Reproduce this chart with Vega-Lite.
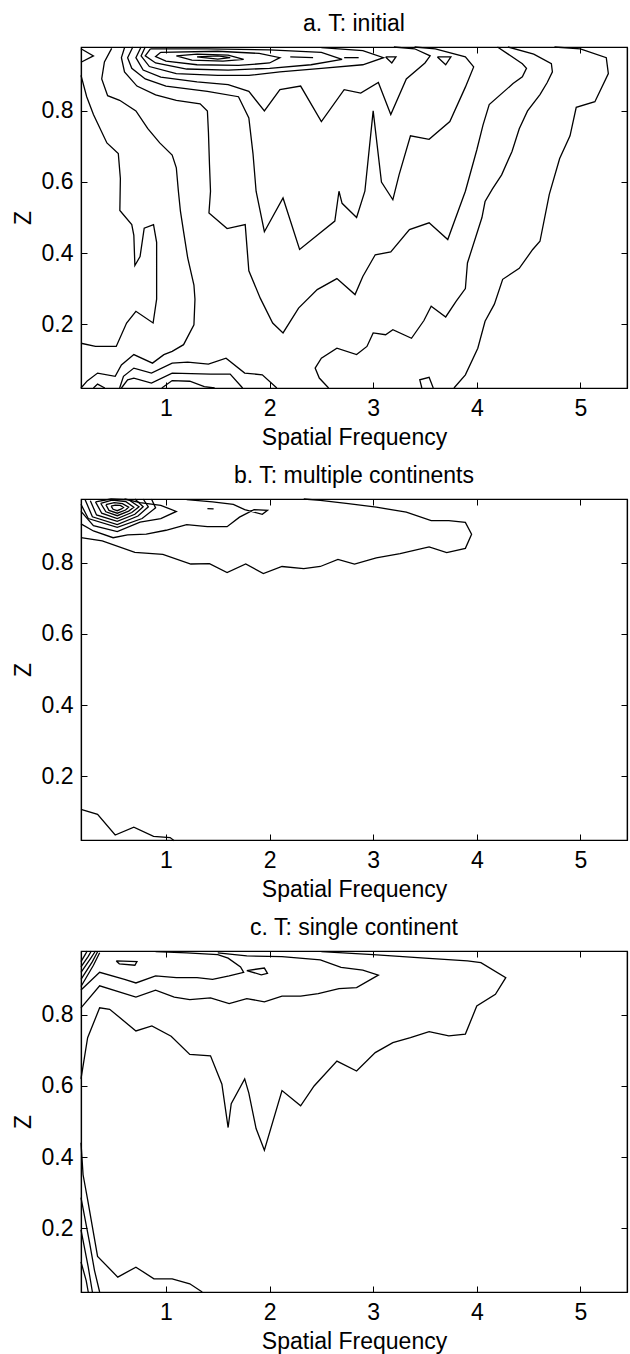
{
"$schema": "https://vega.github.io/schema/vega-lite/v6.json",
"padding": {"left": 11, "top": 12, "right": 2, "bottom": 2},
"spacing": 14,
"config": {
  "font": "Liberation Sans",
  "view": {"stroke": "black", "strokeWidth": 1.2},
  "axis": {"labelFontSize": 23, "titleFontSize": 23, "labelColor": "black", "titleColor": "black", "titleFontWeight": "normal", "domainColor": "black", "tickColor": "black", "grid": false, "tickSize": -6, "domainWidth": 1.2, "titlePadding": 6},
  "axisBottom": {"labelPadding": 15},
  "axisLeft": {"labelPadding": 14},
  "title": {"fontSize": 23, "fontWeight": "normal", "color": "black", "offset": 8},
  "line": {"color": "black", "strokeWidth": 1.3, "clip": true}
},
"vconcat": [
{
  "width": 546, "height": 341,
  "title": "a. T: initial",
  "data": {"values": [
    {"c":"a1","x":0.18,"z":0.975},{"c":"a1","x":0.30,"z":0.955},{"c":"a1","x":0.18,"z":0.937},
    {"c":"a2","x":0.18,"z":0.90},{"c":"a2","x":0.235,"z":0.84},{"c":"a2","x":0.30,"z":0.79},{"c":"a2","x":0.43,"z":0.71},{"c":"a2","x":0.54,"z":0.68},{"c":"a2","x":0.56,"z":0.61},{"c":"a2","x":0.555,"z":0.52},{"c":"a2","x":0.67,"z":0.48},{"c":"a2","x":0.69,"z":0.45},{"c":"a2","x":0.70,"z":0.365},{"c":"a2","x":0.75,"z":0.39},{"c":"a2","x":0.79,"z":0.47},{"c":"a2","x":0.88,"z":0.48},{"c":"a2","x":0.91,"z":0.43},{"c":"a2","x":0.91,"z":0.27},{"c":"a2","x":0.876,"z":0.203},{"c":"a2","x":0.71,"z":0.236},{"c":"a2","x":0.62,"z":0.203},{"c":"a2","x":0.52,"z":0.137},{"c":"a2","x":0.32,"z":0.137},{"c":"a2","x":0.18,"z":0.146},
    {"c":"a3","x":0.476,"z":0.976},{"c":"a3","x":0.406,"z":0.938},{"c":"a3","x":0.38,"z":0.89},{"c":"a3","x":0.437,"z":0.843},{"c":"a3","x":0.553,"z":0.83},{"c":"a3","x":0.71,"z":0.80},{"c":"a3","x":0.825,"z":0.75},{"c":"a3","x":0.94,"z":0.71},{"c":"a3","x":1.06,"z":0.676},{"c":"a3","x":1.10,"z":0.64},{"c":"a3","x":1.12,"z":0.574},{"c":"a3","x":1.14,"z":0.517},{"c":"a3","x":1.17,"z":0.46},{"c":"a3","x":1.21,"z":0.386},{"c":"a3","x":1.27,"z":0.31},{"c":"a3","x":1.28,"z":0.27},{"c":"a3","x":1.27,"z":0.198},{"c":"a3","x":1.17,"z":0.142},{"c":"a3","x":1.06,"z":0.123},{"c":"a3","x":0.98,"z":0.114},{"c":"a3","x":0.87,"z":0.09},{"c":"a3","x":0.69,"z":0.114},{"c":"a3","x":0.57,"z":0.085},{"c":"a3","x":0.51,"z":0.053},{"c":"a3","x":0.34,"z":0.062},{"c":"a3","x":0.24,"z":0.04},{"c":"a3","x":0.18,"z":0.02},
    {"c":"a4","x":4.2,"z":0.98},{"c":"a4","x":4.44,"z":0.933},{"c":"a4","x":4.48,"z":0.92},{"c":"a4","x":4.44,"z":0.896},{"c":"a4","x":4.35,"z":0.877},{"c":"a4","x":4.12,"z":0.818},{"c":"a4","x":4.06,"z":0.76},{"c":"a4","x":4.0,"z":0.69},{"c":"a4","x":3.89,"z":0.574},{"c":"a4","x":3.72,"z":0.438},{"c":"a4","x":3.54,"z":0.485},{"c":"a4","x":3.35,"z":0.466},{"c":"a4","x":3.17,"z":0.403},{"c":"a4","x":3.02,"z":0.395},{"c":"a4","x":2.90,"z":0.334},{"c":"a4","x":2.825,"z":0.283},{"c":"a4","x":2.65,"z":0.328},{"c":"a4","x":2.46,"z":0.297},{"c":"a4","x":2.28,"z":0.245},{"c":"a4","x":2.13,"z":0.175},{"c":"a4","x":2.03,"z":0.203},{"c":"a4","x":1.91,"z":0.273},{"c":"a4","x":1.80,"z":0.35},{"c":"a4","x":1.765,"z":0.48},{"c":"a4","x":1.59,"z":0.469},{"c":"a4","x":1.415,"z":0.513},{"c":"a4","x":1.43,"z":0.574},{"c":"a4","x":1.42,"z":0.65},{"c":"a4","x":1.41,"z":0.74},{"c":"a4","x":1.40,"z":0.80},{"c":"a4","x":1.33,"z":0.82},{"c":"a4","x":1.1,"z":0.83},{"c":"a4","x":0.9,"z":0.845},{"c":"a4","x":0.72,"z":0.87},{"c":"a4","x":0.60,"z":0.91},{"c":"a4","x":0.57,"z":0.95},{"c":"a4","x":0.60,"z":0.978},
    {"c":"a5","x":0.68,"z":0.98},{"c":"a5","x":0.63,"z":0.95},{"c":"a5","x":0.67,"z":0.92},{"c":"a5","x":0.80,"z":0.89},{"c":"a5","x":1.0,"z":0.87},{"c":"a5","x":1.4,"z":0.855},{"c":"a5","x":1.7,"z":0.84},{"c":"a5","x":1.80,"z":0.78},{"c":"a5","x":1.84,"z":0.68},{"c":"a5","x":1.87,"z":0.574},{"c":"a5","x":1.95,"z":0.46},{"c":"a5","x":2.13,"z":0.555},{"c":"a5","x":2.29,"z":0.41},{"c":"a5","x":2.46,"z":0.45},{"c":"a5","x":2.63,"z":0.49},{"c":"a5","x":2.67,"z":0.574},{"c":"a5","x":2.70,"z":0.54},{"c":"a5","x":2.84,"z":0.50},{"c":"a5","x":2.92,"z":0.574},{"c":"a5","x":3.0,"z":0.80},{"c":"a5","x":3.08,"z":0.60},{"c":"a5","x":3.19,"z":0.55},{"c":"a5","x":3.25,"z":0.62},{"c":"a5","x":3.36,"z":0.73},{"c":"a5","x":3.54,"z":0.72},{"c":"a5","x":3.74,"z":0.77},{"c":"a5","x":3.89,"z":0.867},{"c":"a5","x":3.97,"z":0.924},{"c":"a5","x":3.89,"z":0.952},{"c":"a5","x":3.6,"z":0.975},{"c":"a5","x":3.4,"z":0.98},
    {"c":"a6","x":0.76,"z":0.98},{"c":"a6","x":0.71,"z":0.95},{"c":"a6","x":0.78,"z":0.915},{"c":"a6","x":0.95,"z":0.895},{"c":"a6","x":1.3,"z":0.882},{"c":"a6","x":1.6,"z":0.874},{"c":"a6","x":1.8,"z":0.855},{"c":"a6","x":1.95,"z":0.80},{"c":"a6","x":2.1,"z":0.86},{"c":"a6","x":2.3,"z":0.87},{"c":"a6","x":2.5,"z":0.77},{"c":"a6","x":2.72,"z":0.86},{"c":"a6","x":2.88,"z":0.85},{"c":"a6","x":3.05,"z":0.88},{"c":"a6","x":3.17,"z":0.79},{"c":"a6","x":3.32,"z":0.89},{"c":"a6","x":3.5,"z":0.935},{"c":"a6","x":3.55,"z":0.955},{"c":"a6","x":3.4,"z":0.975},{"c":"a6","x":3.2,"z":0.98},
    {"c":"a7","x":0.80,"z":0.98},{"c":"a7","x":0.76,"z":0.955},{"c":"a7","x":0.84,"z":0.925},{"c":"a7","x":1.1,"z":0.905},{"c":"a7","x":1.5,"z":0.90},{"c":"a7","x":1.8,"z":0.90},{"c":"a7","x":2.1,"z":0.91},{"c":"a7","x":2.5,"z":0.92},{"c":"a7","x":2.9,"z":0.93},{"c":"a7","x":3.1,"z":0.95},{"c":"a7","x":2.9,"z":0.97},{"c":"a7","x":2.5,"z":0.978},
    {"c":"a8","x":0.85,"z":0.975},{"c":"a8","x":0.80,"z":0.955},{"c":"a8","x":0.9,"z":0.935},{"c":"a8","x":1.2,"z":0.918},{"c":"a8","x":1.6,"z":0.915},{"c":"a8","x":2.0,"z":0.92},{"c":"a8","x":2.4,"z":0.93},{"c":"a8","x":2.7,"z":0.945},{"c":"a8","x":2.5,"z":0.965},{"c":"a8","x":2.0,"z":0.972},{"c":"a8","x":1.4,"z":0.975},{"c":"a8","x":0.85,"z":0.975},
    {"c":"a9","x":0.95,"z":0.965},{"c":"a9","x":0.90,"z":0.953},{"c":"a9","x":1.0,"z":0.94},{"c":"a9","x":1.3,"z":0.93},{"c":"a9","x":1.7,"z":0.928},{"c":"a9","x":2.0,"z":0.935},{"c":"a9","x":2.1,"z":0.95},{"c":"a9","x":1.9,"z":0.962},{"c":"a9","x":1.5,"z":0.968},{"c":"a9","x":0.95,"z":0.965},
    {"c":"a10","x":1.1,"z":0.955},{"c":"a10","x":1.25,"z":0.943},{"c":"a10","x":1.55,"z":0.94},{"c":"a10","x":1.75,"z":0.945},{"c":"a10","x":1.6,"z":0.957},{"c":"a10","x":1.3,"z":0.96},{"c":"a10","x":1.1,"z":0.955},
    {"c":"a11","x":1.3,"z":0.952},{"c":"a11","x":1.5,"z":0.946},{"c":"a11","x":1.62,"z":0.95},{"c":"a11","x":1.5,"z":0.955},{"c":"a11","x":1.3,"z":0.952},
    {"c":"a12","x":3.12,"z":0.952},{"c":"a12","x":3.22,"z":0.952},{"c":"a12","x":3.18,"z":0.935},{"c":"a12","x":3.12,"z":0.952},
    {"c":"a13","x":3.62,"z":0.952},{"c":"a13","x":3.75,"z":0.952},{"c":"a13","x":3.70,"z":0.93},{"c":"a13","x":3.62,"z":0.952},
    {"c":"a14","x":2.2,"z":0.952},{"c":"a14","x":2.42,"z":0.95},
    {"c":"a15","x":2.72,"z":0.95},{"c":"a15","x":2.86,"z":0.95},
    {"c":"r2","x":4.3,"z":0.98},{"c":"r2","x":4.55,"z":0.96},{"c":"r2","x":4.72,"z":0.933},{"c":"r2","x":4.73,"z":0.91},{"c":"r2","x":4.68,"z":0.88},{"c":"r2","x":4.61,"z":0.846},{"c":"r2","x":4.49,"z":0.80},{"c":"r2","x":4.41,"z":0.75},{"c":"r2","x":4.34,"z":0.686},{"c":"r2","x":4.24,"z":0.62},{"c":"r2","x":4.15,"z":0.58},{"c":"r2","x":4.08,"z":0.545},{"c":"r2","x":4.05,"z":0.5},{"c":"r2","x":3.91,"z":0.372},{"c":"r2","x":3.89,"z":0.30},{"c":"r2","x":3.80,"z":0.264},{"c":"r2","x":3.70,"z":0.22},{"c":"r2","x":3.56,"z":0.25},{"c":"r2","x":3.49,"z":0.21},{"c":"r2","x":3.37,"z":0.16},{"c":"r2","x":3.19,"z":0.184},{"c":"r2","x":3.12,"z":0.17},{"c":"r2","x":3.0,"z":0.175},{"c":"r2","x":2.94,"z":0.137},{"c":"r2","x":2.84,"z":0.114},{"c":"r2","x":2.65,"z":0.132},{"c":"r2","x":2.50,"z":0.104},{"c":"r2","x":2.44,"z":0.076},{"c":"r2","x":2.48,"z":0.048},{"c":"r2","x":2.57,"z":0.02},
    {"c":"r1","x":4.75,"z":0.98},{"c":"r1","x":5.0,"z":0.975},{"c":"r1","x":5.25,"z":0.95},{"c":"r1","x":5.27,"z":0.905},{"c":"r1","x":5.14,"z":0.826},{"c":"r1","x":4.96,"z":0.81},{"c":"r1","x":4.90,"z":0.73},{"c":"r1","x":4.80,"z":0.666},{"c":"r1","x":4.70,"z":0.565},{"c":"r1","x":4.61,"z":0.433},{"c":"r1","x":4.54,"z":0.41},{"c":"r1","x":4.41,"z":0.357},{"c":"r1","x":4.25,"z":0.326},{"c":"r1","x":4.17,"z":0.256},{"c":"r1","x":4.08,"z":0.208},{"c":"r1","x":4.01,"z":0.132},{"c":"r1","x":3.89,"z":0.057},{"c":"r1","x":3.78,"z":0.02},
    {"c":"s1","x":3.47,"z":0.02},{"c":"s1","x":3.45,"z":0.043},{"c":"s1","x":3.54,"z":0.05},{"c":"s1","x":3.58,"z":0.02},
    {"c":"L3","x":0.553,"z":0.02},{"c":"L3","x":0.59,"z":0.053},{"c":"L3","x":0.69,"z":0.076},{"c":"L3","x":0.86,"z":0.062},{"c":"L3","x":1.06,"z":0.09},{"c":"L3","x":1.21,"z":0.093},{"c":"L3","x":1.41,"z":0.087},{"c":"L3","x":1.58,"z":0.104},{"c":"L3","x":1.76,"z":0.062},{"c":"L3","x":1.93,"z":0.057},{"c":"L3","x":2.07,"z":0.02},
    {"c":"L4","x":0.57,"z":0.02},{"c":"L4","x":0.63,"z":0.043},{"c":"L4","x":0.69,"z":0.048},{"c":"L4","x":0.86,"z":0.034},{"c":"L4","x":1.06,"z":0.062},{"c":"L4","x":1.43,"z":0.059},{"c":"L4","x":1.62,"z":0.059},{"c":"L4","x":1.74,"z":0.02},
    {"c":"L5","x":0.96,"z":0.02},{"c":"L5","x":1.06,"z":0.041},{"c":"L5","x":1.23,"z":0.039},{"c":"L5","x":1.37,"z":0.024},{"c":"L5","x":1.47,"z":0.02},
    {"c":"L2","x":0.30,"z":0.02},{"c":"L2","x":0.34,"z":0.031},{"c":"L2","x":0.41,"z":0.02}
  ]},
  "layer": [
    {"mark": "line",
     "encoding": {
       "x": {"field": "x", "type": "quantitative", "scale": {"domain": [0.18, 5.45], "nice": false, "zero": false}, "axis": {"values": [1,2,3,4,5], "title": "Spatial Frequency", "orient": "bottom"}},
       "y": {"field": "z", "type": "quantitative", "scale": {"domain": [0.02, 0.98], "nice": false, "zero": false}, "axis": {"values": [0.2,0.4,0.6,0.8], "title": "Z", "orient": "left"}},
       "detail": {"field": "c"}, "order": {"value": null}}},
    {"mark": {"type": "line", "opacity": 0},
     "encoding": {
       "x": {"field": "x", "type": "quantitative", "axis": {"values": [1,2,3,4,5], "title": null, "labels": false, "orient": "top"}},
       "y": {"field": "z", "type": "quantitative", "axis": {"values": [0.2,0.4,0.6,0.8], "title": null, "labels": false, "orient": "right"}},
       "detail": {"field": "c"}, "order": {"value": null}}}
  ],
  "resolve": {"axis": {"x": "independent", "y": "independent"}}
},
{
  "width": 546, "height": 341,
  "title": "b. T: multiple continents",
  "data": {"values": [
    {"c":"b1","x":0.18,"z":0.871},{"c":"b1","x":0.385,"z":0.862},{"c":"b1","x":0.70,"z":0.83},{"c":"b1","x":0.97,"z":0.824},{"c":"b1","x":1.24,"z":0.797},{"c":"b1","x":1.42,"z":0.798},{"c":"b1","x":1.59,"z":0.773},{"c":"b1","x":1.77,"z":0.797},{"c":"b1","x":1.94,"z":0.77},{"c":"b1","x":2.12,"z":0.79},{"c":"b1","x":2.33,"z":0.784},{"c":"b1","x":2.49,"z":0.79},{"c":"b1","x":2.66,"z":0.81},{"c":"b1","x":2.82,"z":0.797},{"c":"b1","x":3.03,"z":0.814},{"c":"b1","x":3.26,"z":0.826},{"c":"b1","x":3.54,"z":0.845},{"c":"b1","x":3.71,"z":0.829},{"c":"b1","x":3.89,"z":0.841},{"c":"b1","x":3.95,"z":0.881},{"c":"b1","x":3.89,"z":0.914},{"c":"b1","x":3.73,"z":0.919},{"c":"b1","x":3.56,"z":0.919},{"c":"b1","x":3.32,"z":0.943},{"c":"b1","x":3.03,"z":0.957},{"c":"b1","x":2.76,"z":0.967},{"c":"b1","x":2.49,"z":0.976},{"c":"b1","x":2.33,"z":0.98},
    {"c":"b2","x":0.18,"z":0.91},{"c":"b2","x":0.30,"z":0.89},{"c":"b2","x":0.49,"z":0.871},{"c":"b2","x":0.63,"z":0.879},{"c":"b2","x":0.81,"z":0.881},{"c":"b2","x":1.0,"z":0.892},{"c":"b2","x":1.2,"z":0.908},{"c":"b2","x":1.40,"z":0.902},{"c":"b2","x":1.59,"z":0.902},{"c":"b2","x":1.71,"z":0.929},{"c":"b2","x":1.85,"z":0.95},{"c":"b2","x":1.98,"z":0.948},{"c":"b2","x":1.93,"z":0.937},{"c":"b2","x":1.76,"z":0.95},{"c":"b2","x":1.65,"z":0.965},{"c":"b2","x":1.45,"z":0.972},{"c":"b2","x":1.2,"z":0.978},
    {"c":"k8","x":0.18,"z":0.945},{"c":"k8","x":0.30,"z":0.905},{"c":"k8","x":0.53,"z":0.888},{"c":"k8","x":0.75,"z":0.915},{"c":"k8","x":0.95,"z":0.925},{"c":"k8","x":1.10,"z":0.945},{"c":"k8","x":0.95,"z":0.962},{"c":"k8","x":0.75,"z":0.97},{"c":"k8","x":0.60,"z":0.98},
    {"c":"k7","x":0.18,"z":0.965},{"c":"k7","x":0.25,"z":0.925},{"c":"k7","x":0.53,"z":0.90},{"c":"k7","x":0.77,"z":0.925},{"c":"k7","x":0.9,"z":0.955},{"c":"k7","x":0.86,"z":0.98},
    {"c":"k6","x":0.22,"z":0.978},{"c":"k6","x":0.29,"z":0.930},{"c":"k6","x":0.53,"z":0.908},{"c":"k6","x":0.73,"z":0.932},{"c":"k6","x":0.83,"z":0.958},{"c":"k6","x":0.78,"z":0.98},
    {"c":"k5","x":0.27,"z":0.975},{"c":"k5","x":0.33,"z":0.935},{"c":"k5","x":0.53,"z":0.917},{"c":"k5","x":0.70,"z":0.937},{"c":"k5","x":0.78,"z":0.958},{"c":"k5","x":0.70,"z":0.98},
    {"c":"k4","x":0.32,"z":0.972},{"c":"k4","x":0.38,"z":0.940},{"c":"k4","x":0.53,"z":0.925},{"c":"k4","x":0.67,"z":0.942},{"c":"k4","x":0.74,"z":0.958},{"c":"k4","x":0.64,"z":0.978},{"c":"k4","x":0.47,"z":0.98},{"c":"k4","x":0.32,"z":0.972},
    {"c":"k3","x":0.37,"z":0.968},{"c":"k3","x":0.42,"z":0.944},{"c":"k3","x":0.53,"z":0.933},{"c":"k3","x":0.64,"z":0.946},{"c":"k3","x":0.69,"z":0.957},{"c":"k3","x":0.61,"z":0.973},{"c":"k3","x":0.48,"z":0.977},{"c":"k3","x":0.37,"z":0.968},
    {"c":"k2","x":0.42,"z":0.964},{"c":"k2","x":0.45,"z":0.948},{"c":"k2","x":0.53,"z":0.940},{"c":"k2","x":0.61,"z":0.949},{"c":"k2","x":0.64,"z":0.957},{"c":"k2","x":0.58,"z":0.967},{"c":"k2","x":0.50,"z":0.970},{"c":"k2","x":0.42,"z":0.964},
    {"c":"k1","x":0.47,"z":0.960},{"c":"k1","x":0.49,"z":0.951},{"c":"k1","x":0.53,"z":0.947},{"c":"k1","x":0.57,"z":0.952},{"c":"k1","x":0.59,"z":0.956},{"c":"k1","x":0.56,"z":0.962},{"c":"k1","x":0.51,"z":0.963},{"c":"k1","x":0.47,"z":0.960},
    {"c":"bd","x":1.40,"z":0.953},{"c":"bd","x":1.46,"z":0.952},
    {"c":"b4","x":0.18,"z":0.106},{"c":"b4","x":0.34,"z":0.092},{"c":"b4","x":0.51,"z":0.034},{"c":"b4","x":0.69,"z":0.056},{"c":"b4","x":0.88,"z":0.03},{"c":"b4","x":1.04,"z":0.027},{"c":"b4","x":1.08,"z":0.018}
  ]},
  "layer": [
    {"mark": "line",
     "encoding": {
       "x": {"field": "x", "type": "quantitative", "scale": {"domain": [0.18, 5.45], "nice": false, "zero": false}, "axis": {"values": [1,2,3,4,5], "title": "Spatial Frequency", "orient": "bottom"}},
       "y": {"field": "z", "type": "quantitative", "scale": {"domain": [0.02, 0.98], "nice": false, "zero": false}, "axis": {"values": [0.2,0.4,0.6,0.8], "title": "Z", "orient": "left"}},
       "detail": {"field": "c"}, "order": {"value": null}}},
    {"mark": {"type": "line", "opacity": 0},
     "encoding": {
       "x": {"field": "x", "type": "quantitative", "axis": {"values": [1,2,3,4,5], "title": null, "labels": false, "orient": "top"}},
       "y": {"field": "z", "type": "quantitative", "axis": {"values": [0.2,0.4,0.6,0.8], "title": null, "labels": false, "orient": "right"}},
       "detail": {"field": "c"}, "order": {"value": null}}}
  ],
  "resolve": {"axis": {"x": "independent", "y": "independent"}}
},
{
  "width": 546, "height": 341,
  "title": "c. T: single continent",
  "data": {"values": [
    {"c":"c1","x":0.18,"z":0.62},{"c":"c1","x":0.244,"z":0.736},{"c":"c1","x":0.36,"z":0.82},{"c":"c1","x":0.457,"z":0.816},{"c":"c1","x":0.71,"z":0.755},{"c":"c1","x":0.864,"z":0.769},{"c":"c1","x":1.05,"z":0.74},{"c":"c1","x":1.23,"z":0.689},{"c":"c1","x":1.43,"z":0.685},{"c":"c1","x":1.54,"z":0.605},{"c":"c1","x":1.60,"z":0.483},{"c":"c1","x":1.63,"z":0.55},{"c":"c1","x":1.76,"z":0.62},{"c":"c1","x":1.80,"z":0.58},{"c":"c1","x":1.87,"z":0.48},{"c":"c1","x":1.95,"z":0.419},{"c":"c1","x":2.12,"z":0.587},{"c":"c1","x":2.30,"z":0.544},{"c":"c1","x":2.43,"z":0.60},{"c":"c1","x":2.65,"z":0.67},{"c":"c1","x":2.84,"z":0.642},{"c":"c1","x":3.02,"z":0.694},{"c":"c1","x":3.19,"z":0.722},{"c":"c1","x":3.36,"z":0.736},{"c":"c1","x":3.54,"z":0.753},{"c":"c1","x":3.73,"z":0.741},{"c":"c1","x":3.89,"z":0.746},{"c":"c1","x":4.0,"z":0.825},{"c":"c1","x":4.18,"z":0.858},{"c":"c1","x":4.28,"z":0.905},{"c":"c1","x":4.04,"z":0.947},{"c":"c1","x":3.91,"z":0.952},{"c":"c1","x":3.5,"z":0.96},{"c":"c1","x":3.0,"z":0.97},{"c":"c1","x":2.5,"z":0.978},
    {"c":"c2","x":0.18,"z":0.82},{"c":"c2","x":0.36,"z":0.882},{"c":"c2","x":0.71,"z":0.85},{"c":"c2","x":0.90,"z":0.87},{"c":"c2","x":1.08,"z":0.85},{"c":"c2","x":1.23,"z":0.843},{"c":"c2","x":1.43,"z":0.848},{"c":"c2","x":1.61,"z":0.832},{"c":"c2","x":1.78,"z":0.846},{"c":"c2","x":1.95,"z":0.837},{"c":"c2","x":2.12,"z":0.853},{"c":"c2","x":2.30,"z":0.853},{"c":"c2","x":2.47,"z":0.86},{"c":"c2","x":2.67,"z":0.874},{"c":"c2","x":2.84,"z":0.877},{"c":"c2","x":3.05,"z":0.912},{"c":"c2","x":2.90,"z":0.926},{"c":"c2","x":2.69,"z":0.934},{"c":"c2","x":2.49,"z":0.955},{"c":"c2","x":2.12,"z":0.964},{"c":"c2","x":1.78,"z":0.966},{"c":"c2","x":1.5,"z":0.975},
    {"c":"c3","x":0.18,"z":0.87},{"c":"c3","x":0.36,"z":0.92},{"c":"c3","x":0.60,"z":0.90},{"c":"c3","x":0.71,"z":0.89},{"c":"c3","x":0.90,"z":0.91},{"c":"c3","x":1.10,"z":0.905},{"c":"c3","x":1.30,"z":0.905},{"c":"c3","x":1.45,"z":0.90},{"c":"c3","x":1.61,"z":0.91},{"c":"c3","x":1.75,"z":0.92},{"c":"c3","x":1.72,"z":0.935},{"c":"c3","x":1.60,"z":0.96},{"c":"c3","x":1.5,"z":0.97},{"c":"c3","x":1.2,"z":0.975},{"c":"c3","x":0.9,"z":0.978},
    {"c":"c3b","x":1.78,"z":0.925},{"c":"c3b","x":1.95,"z":0.932},{"c":"c3b","x":1.98,"z":0.917},{"c":"c3b","x":1.92,"z":0.913},{"c":"c3b","x":1.78,"z":0.925},
    {"c":"c4","x":0.52,"z":0.952},{"c":"c4","x":0.72,"z":0.95},{"c":"c4","x":0.70,"z":0.94},{"c":"c4","x":0.55,"z":0.944},{"c":"c4","x":0.52,"z":0.952},
    {"c":"h1","x":0.18,"z":0.88},{"c":"h1","x":0.30,"z":0.94},{"c":"h1","x":0.36,"z":0.975},
    {"c":"h2","x":0.18,"z":0.90},{"c":"h2","x":0.29,"z":0.95},{"c":"h2","x":0.34,"z":0.978},
    {"c":"h3","x":0.18,"z":0.92},{"c":"h3","x":0.27,"z":0.958},{"c":"h3","x":0.32,"z":0.98},
    {"c":"h4","x":0.18,"z":0.935},{"c":"h4","x":0.25,"z":0.965},{"c":"h4","x":0.28,"z":0.98},
    {"c":"h5","x":0.18,"z":0.95},{"c":"h5","x":0.22,"z":0.97},{"c":"h5","x":0.24,"z":0.98},
    {"c":"c6","x":0.18,"z":0.44},{"c":"c6","x":0.20,"z":0.35},{"c":"c6","x":0.244,"z":0.28},{"c":"c6","x":0.34,"z":0.12},{"c":"c6","x":0.535,"z":0.062},{"c":"c6","x":0.71,"z":0.09},{"c":"c6","x":0.884,"z":0.057},{"c":"c6","x":1.06,"z":0.057},{"c":"c6","x":1.23,"z":0.043},{"c":"c6","x":1.35,"z":0.02},
    {"c":"c7","x":0.18,"z":0.286},{"c":"c7","x":0.264,"z":0.157},{"c":"c7","x":0.31,"z":0.081},{"c":"c7","x":0.36,"z":0.02},
    {"c":"c8","x":0.18,"z":0.195},{"c":"c8","x":0.25,"z":0.09},{"c":"c8","x":0.29,"z":0.02},
    {"c":"c9","x":0.18,"z":0.105},{"c":"c9","x":0.23,"z":0.052},{"c":"c9","x":0.25,"z":0.02}
  ]},
  "layer": [
    {"mark": "line",
     "encoding": {
       "x": {"field": "x", "type": "quantitative", "scale": {"domain": [0.18, 5.45], "nice": false, "zero": false}, "axis": {"values": [1,2,3,4,5], "title": "Spatial Frequency", "orient": "bottom"}},
       "y": {"field": "z", "type": "quantitative", "scale": {"domain": [0.02, 0.98], "nice": false, "zero": false}, "axis": {"values": [0.2,0.4,0.6,0.8], "title": "Z", "orient": "left"}},
       "detail": {"field": "c"}, "order": {"value": null}}},
    {"mark": {"type": "line", "opacity": 0},
     "encoding": {
       "x": {"field": "x", "type": "quantitative", "axis": {"values": [1,2,3,4,5], "title": null, "labels": false, "orient": "top"}},
       "y": {"field": "z", "type": "quantitative", "axis": {"values": [0.2,0.4,0.6,0.8], "title": null, "labels": false, "orient": "right"}},
       "detail": {"field": "c"}, "order": {"value": null}}}
  ],
  "resolve": {"axis": {"x": "independent", "y": "independent"}}
}
]
}
